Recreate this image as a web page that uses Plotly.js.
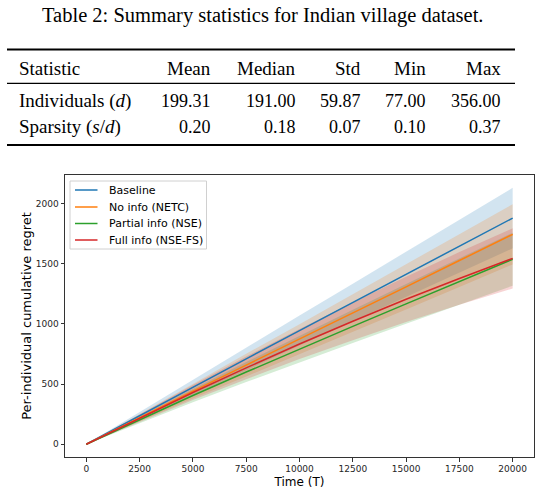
<!DOCTYPE html>
<html>
<head>
<meta charset="utf-8">
<script src="https://cdn.plot.ly/plotly-3.0.1.min.js"></script>
<style>
  html, body { margin: 0; padding: 0; background: #ffffff; }
  #chart { width: 552px; height: 495px; }
</style>
</head>
<body>
<div id="chart"></div>
<script>
// ---- Summary table ----
const tableCaption = 'Table 2: Summary statistics for Indian village dataset.';
const tableHeader = 'Statistic';
const tableColumns = ['Mean', 'Median', 'Std', 'Min', 'Max'];
const tableRowLabels = ['Individuals (<i>d</i>)', 'Sparsity (<i>s</i>/<i>d</i>)'];
const individualsStats = [199.31, 191.00, 59.87, 77.00, 356.00];
const sparsityStats = [0.20, 0.18, 0.07, 0.10, 0.37];

// ---- Regret curves (mean and standard deviation over runs) ----
const timeSteps = [0, 2500, 5000, 7500, 10000, 12500, 15000, 17500, 20000];
const seriesNames = ['Baseline', 'No info (NETC)', 'Partial info (NSE)', 'Full info (NSE-FS)'];
const baselineMean = [0, 238, 475, 710, 945, 1178, 1412, 1646, 1880];
const baselineStd  = [0, 31, 63, 94, 125, 157, 188, 220, 251];
const netcMean     = [0, 222, 442, 658, 873, 1090, 1308, 1527, 1745];
const netcStd      = [0, 31, 62, 94, 125, 157, 188, 219, 250];
const nseMean      = [0, 205, 405, 600, 792, 980, 1167, 1352, 1538];
const nseStd       = [0, 28, 55, 83, 110, 138, 165, 193, 220];
const nseFsMean    = [0, 218, 430, 635, 833, 1022, 1205, 1378, 1545];
const nseFsStd     = [0, 31, 62, 94, 125, 157, 188, 219, 250];
const xTicks = [0, 2500, 5000, 7500, 10000, 12500, 15000, 17500, 20000];
const yTicks = [0, 500, 1000, 1500, 2000];

const means = [baselineMean, netcMean, nseMean, nseFsMean];
const stds = [baselineStd, netcStd, nseStd, nseFsStd];
const lineColors = ['#1f77b4', '#ff7f0e', '#2ca02c', '#d62728'];
const bandColors = ['rgba(31,119,180,0.2)', 'rgba(255,127,14,0.2)',
                    'rgba(44,160,44,0.2)', 'rgba(214,39,40,0.2)'];

// Figure geometry (pixels) and conversion to paper coordinates
const M = { l: 65, r: 18, t: 175, b: 38 };
const PW = 552 - M.l - M.r, PH = 495 - M.t - M.b;
const fx = px => (px - M.l) / PW;
const fy = py => (495 - M.b - py) / PH;

const traces = [];
// shaded bands (mean +/- std) first
means.forEach((m, i) => {
  const s = stds[i];
  traces.push({
    x: timeSteps, y: m.map((v, k) => v - s[k]), mode: 'lines',
    line: { width: 0, color: bandColors[i] }, hoverinfo: 'skip', showlegend: false
  });
  traces.push({
    x: timeSteps, y: m.map((v, k) => v + s[k]), mode: 'lines', fill: 'tonexty',
    fillcolor: bandColors[i], line: { width: 0, color: bandColors[i] },
    hoverinfo: 'skip', showlegend: false
  });
});
// mean lines on top
means.forEach((m, i) => {
  traces.push({
    x: timeSteps, y: m, mode: 'lines', name: seriesNames[i], showlegend: false,
    line: { color: lineColors[i], width: 1.5 }
  });
});

// Table text
const serifFamily = 'Liberation Serif, Times New Roman, serif';
const wordFont = { family: serifFamily, size: 19, color: '#000' };
const numFont = { family: serifFamily, size: 18, color: '#000' };
const colRight = [213, 298, 363, 428, 503];
const rowY = [101.5, 126.5];
const headerY = 68.5;
const annotations = [];
annotations.push({ xref: 'paper', yref: 'paper', x: fx(262), y: fy(15), text: tableCaption,
  showarrow: false, xanchor: 'center', yanchor: 'middle',
  font: { family: serifFamily, size: 20.5, color: '#000' } });
annotations.push({ xref: 'paper', yref: 'paper', x: fx(17), y: fy(headerY), text: tableHeader,
  showarrow: false, xanchor: 'left', yanchor: 'middle', font: wordFont });
tableColumns.forEach((c, j) => annotations.push({ xref: 'paper', yref: 'paper',
  x: fx(colRight[j]), y: fy(headerY), text: c, showarrow: false,
  xanchor: 'right', yanchor: 'middle', font: wordFont }));
[individualsStats, sparsityStats].forEach((row, r) => {
  annotations.push({ xref: 'paper', yref: 'paper', x: fx(17), y: fy(rowY[r]),
    text: tableRowLabels[r], showarrow: false, xanchor: 'left', yanchor: 'middle', font: wordFont });
  row.forEach((v, j) => annotations.push({ xref: 'paper', yref: 'paper',
    x: fx(colRight[j]), y: fy(rowY[r]), text: v.toFixed(2), showarrow: false,
    xanchor: 'right', yanchor: 'middle', font: numFont }));
});

// Table rules (booktabs style)
const rule = (py, w) => ({ type: 'line', xref: 'paper', yref: 'paper',
  x0: fx(7), x1: fx(515), y0: fy(py), y1: fy(py), line: { color: '#000', width: w } });
const shapes = [rule(49.5, 2), rule(83.3, 1.2), rule(145, 2)];

// Legend box in the upper-left corner of the axes
shapes.push({ type: 'rect', xref: 'paper', yref: 'paper',
  x0: fx(70), x1: fx(206.5), y0: fy(181), y1: fy(249),
  fillcolor: 'rgba(255,255,255,0.8)', line: { color: '#d0d0d0', width: 1 } });
const legendRowY = [190, 207, 223.5, 240];
seriesNames.forEach((name, i) => {
  shapes.push({ type: 'line', xref: 'paper', yref: 'paper',
    x0: fx(75), x1: fx(97.5), y0: fy(legendRowY[i]), y1: fy(legendRowY[i]),
    line: { color: lineColors[i], width: 1.5 } });
  annotations.push({ xref: 'paper', yref: 'paper', x: fx(106.5), y: fy(legendRowY[i]),
    text: name, showarrow: false, xanchor: 'left', yanchor: 'middle',
    font: { family: 'DejaVu Sans, sans-serif', size: 11, color: '#000' } });
});

const layout = {
  width: 552, height: 495,
  margin: M,
  paper_bgcolor: '#ffffff', plot_bgcolor: '#ffffff',
  font: { family: 'DejaVu Sans, sans-serif', size: 9, color: '#262626' },
  showlegend: false,
  xaxis: {
    range: [-1000, 21000], tickvals: xTicks, tickformat: 'd',
    showgrid: false, zeroline: false, showline: true, mirror: true,
    linecolor: '#333', linewidth: 1, ticks: 'outside', ticklen: 3.5, tickcolor: '#333',
    tickfont: { size: 9, color: '#262626' },
    title: { text: 'Time (T)', font: { size: 12, color: '#000' }, standoff: 4 }
  },
  yaxis: {
    range: [-106, 2238], tickvals: yTicks, tickformat: 'd',
    showgrid: false, zeroline: false, showline: true, mirror: true,
    linecolor: '#333', linewidth: 1, ticks: 'outside', ticklen: 3.5, tickcolor: '#333',
    tickfont: { size: 9, color: '#262626' },
    title: { text: 'Per-individual cumulative regret', font: { size: 13, color: '#000' }, standoff: 1 }
  },
  annotations: annotations,
  shapes: shapes
};

Plotly.newPlot('chart', traces, layout, { displayModeBar: false, staticPlot: true });
</script>
</body>
</html>
